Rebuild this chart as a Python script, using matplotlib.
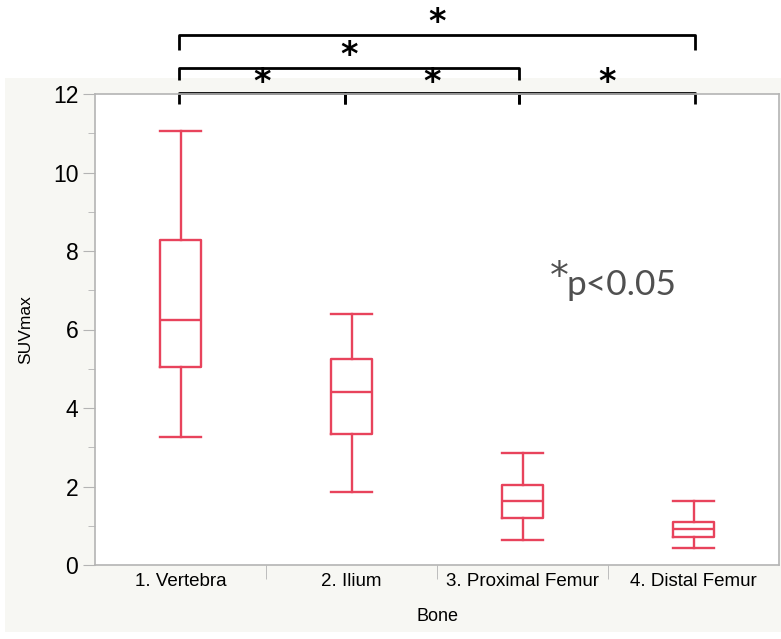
import numpy as np
import matplotlib
matplotlib.use("Agg")
import matplotlib.pyplot as plt
from matplotlib.patches import Rectangle
from matplotlib.ticker import MultipleLocator, FixedLocator, NullFormatter

# five-number summaries
bones = ["1. Vertebra", "2. Ilium", "3. Proximal Femur", "4. Distal Femur"]
whislo = [3.26, 1.86, 0.64, 0.44]
q1 = [5.04, 3.34, 1.20, 0.71]
med = [6.24, 4.41, 1.63, 0.91]
q3 = [8.28, 5.25, 2.04, 1.10]
whishi = [11.06, 6.39, 2.85, 1.64]

# significance brackets: (from, to, level)
pairs = [(1, 2, 0), (2, 3, 0), (3, 4, 0), (1, 3, 1), (1, 4, 2)]
bracket_x = {1: 0.99, 2: 1.96, 3: 2.98, 4: 4.01}

red = "#e8435c"
grid_gray = "#b4b4b4"

plt.rcParams["font.family"] = ["Liberation Sans", "DejaVu Sans"]

fig = plt.figure(figsize=(7.81, 6.39), dpi=100)
fig.patches.append(Rectangle((5 / 781, 7 / 639), 776 / 781, 554 / 639,
                             transform=fig.transFigure, facecolor="#f7f7f3",
                             edgecolor="none", zorder=-10))
ax = fig.add_axes([95 / 781, 74 / 639, 684 / 781, 471 / 639])
ax.set_facecolor("white")

stats = []
for i in range(len(bones)):
    stats.append(dict(whislo=whislo[i], q1=q1[i], med=med[i], q3=q3[i],
                      whishi=whishi[i], fliers=[], label=bones[i]))

props = dict(color=red, linewidth=1.7)
ax.bxp(stats, positions=range(1, 5), widths=0.235, capwidths=0.235,
       showfliers=False, boxprops=props, whiskerprops=props,
       capprops=props, medianprops=props)

ax.set_xlim(0.5, 4.5)
ax.set_ylim(0, 12)
ax.yaxis.set_major_locator(MultipleLocator(2))
ax.yaxis.set_minor_locator(MultipleLocator(1))
ax.tick_params(axis="y", which="major", length=9, color=grid_gray, labelsize=16.5, pad=3)
ax.tick_params(axis="y", which="minor", length=5, color=grid_gray)
ax.set_xticks(range(1, 5))
ax.set_xticklabels(bones)
ax.xaxis.set_minor_locator(FixedLocator([1.5, 2.5, 3.5]))
ax.xaxis.set_minor_formatter(NullFormatter())
ax.tick_params(axis="x", which="major", length=0, labelsize=13.5, pad=6)
ax.tick_params(axis="x", which="minor", length=10, color=grid_gray)
for s in ax.spines.values():
    s.set_color(grid_gray)
    s.set_linewidth(1.2)

ax.set_xlabel("Bone", fontsize=13, labelpad=13)
ax.set_ylabel("SUVmax", fontsize=12.5, labelpad=14)

# brackets above the plot
level_y = [12.03, 12.66, 13.50]
tick_len = [0.28, 0.30, 0.38]
for a, b, lv in pairs:
    y = level_y[lv]
    xa, xb = bracket_x[a], bracket_x[b]
    ax.plot([xa, xa, xb, xb], [y - tick_len[lv], y, y, y - tick_len[lv]],
            color="black", linewidth=2, clip_on=False, solid_capstyle="butt")
    sy = y + (0.26 if lv == 0 else 0.33)
    ax.text((xa + xb) / 2, sy, "*", ha="center", va="center", fontweight="bold",
            fontsize=24, color="black", family="DejaVu Sans")

ax.text(3.27, 7.3, "*", fontsize=27, color="#505050", ha="right",
        va="center", family="DejaVu Sans")
ax.text(3.26, 6.88, "p<0.05", fontsize=25.5, color="#505050", ha="left",
        va="baseline", family="Lato")

fig.savefig("out.png", dpi=100)
